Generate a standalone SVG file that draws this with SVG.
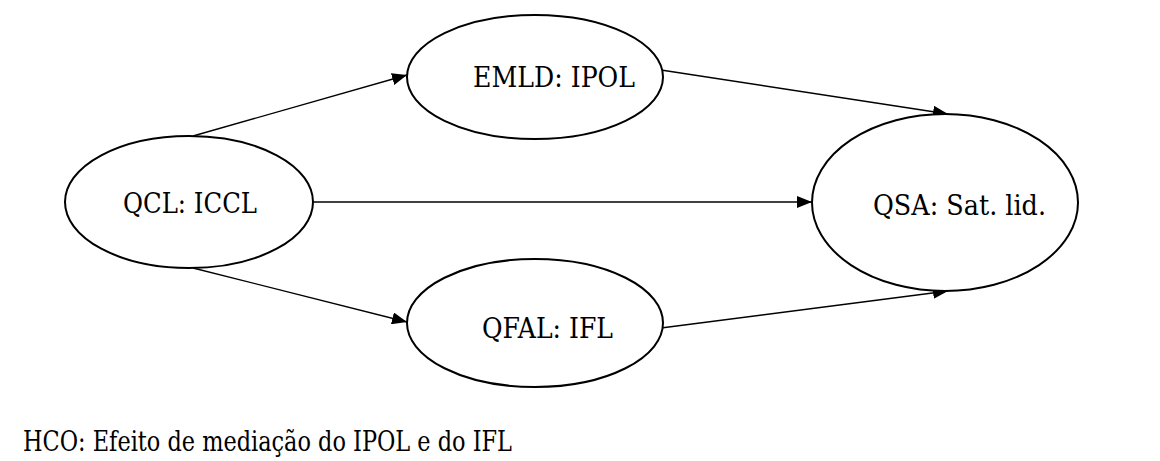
<svg xmlns="http://www.w3.org/2000/svg" width="1160" height="461" viewBox="0 0 1160 461">
  <style>
    .node ellipse { fill: #ffffff; stroke: #000000; stroke-width: 2; }
    .label { font-family: "DejaVu Serif", "Liberation Serif", serif; font-size: 28px; fill: #000000; }
    .edge { stroke: #000000; stroke-width: 1.4; fill: none; marker-end: url(#arrow); }
  </style>
  <defs>
    <marker id="arrow" viewBox="0 0 15 12" refX="15" refY="6" markerWidth="15" markerHeight="12" markerUnits="userSpaceOnUse" orient="auto">
      <path d="M0,0 L15,6 L0,12 Z" fill="#000000"/>
    </marker>
  </defs>
  <rect width="1160" height="461" fill="#ffffff"/>

  <g id="connectors">
    <line class="edge" x1="193" y1="136" x2="407" y2="75"/>
    <line class="edge" x1="661" y1="70" x2="948" y2="114"/>
    <line class="edge" x1="313" y1="202" x2="812" y2="202"/>
    <line class="edge" x1="193" y1="268" x2="407" y2="322"/>
    <line class="edge" x1="661" y1="328" x2="948" y2="291"/>
  </g>

  <g id="node-qcl" class="node">
    <ellipse cx="189" cy="202" rx="124" ry="66"/>
    <text class="label" x="123" y="213" textLength="134" lengthAdjust="spacingAndGlyphs">QCL: ICCL</text>
  </g>
  <g id="node-emld" class="node">
    <ellipse cx="535" cy="77" rx="128" ry="62"/>
    <text class="label" x="473" y="87" textLength="162" lengthAdjust="spacingAndGlyphs">EMLD: IPOL</text>
  </g>
  <g id="node-qfal" class="node">
    <ellipse cx="535" cy="323" rx="128" ry="64"/>
    <text class="label" x="482" y="338" textLength="131" lengthAdjust="spacingAndGlyphs">QFAL: IFL</text>
  </g>
  <g id="node-qsa" class="node">
    <ellipse cx="945" cy="202.5" rx="133" ry="88.5"/>
    <text class="label" x="873" y="215" textLength="173" lengthAdjust="spacingAndGlyphs">QSA: Sat. lid.</text>
  </g>

  <text class="label" x="23" y="451" textLength="489" lengthAdjust="spacingAndGlyphs">HCO: Efeito de mediação do IPOL e do IFL</text>
</svg>
